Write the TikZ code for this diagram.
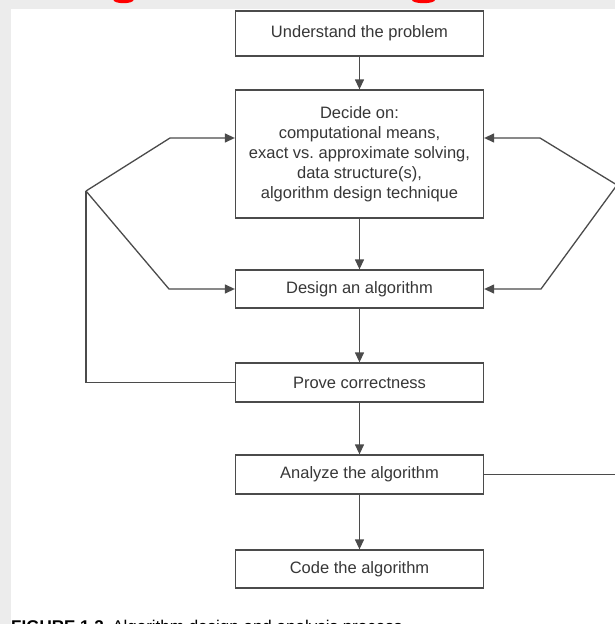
\documentclass[tikz,border=0pt]{standalone}
\usepackage{fontspec}
\setmainfont{Liberation Sans}
\usetikzlibrary{arrows.meta,positioning,calc}
\definecolor{pgray}{RGB}{236,236,236}
\definecolor{lgray}{RGB}{75,75,75}
\definecolor{tgray}{RGB}{55,55,55}
\definecolor{hred}{RGB}{255,0,0}

\begin{document}
\begin{tikzpicture}[x=1pt, y=-1pt,
    box/.style={draw=lgray, line width=1.3pt, fill=white, minimum width=248pt,
                inner sep=0pt, text=tgray, align=center,
                font=\fontsize{16.5}{20}\selectfont},
    arr/.style={-{Triangle[length=10pt, width=9pt]}, draw=lgray, line width=1.3pt},
    link/.style={draw=lgray, line width=1.3pt}
]
\useasboundingbox (0,0) rectangle (615,624);
\fill[pgray] (0,0) rectangle (615,624);
\fill[white] (11,9) rectangle (640,640);

% red heading, cut off by the frame
\fill[hred] (123.5,0) ellipse (10 and 3.2);
\fill[hred] (423.5,0) ellipse (11.5 and 3.2);

% Process steps
\node[box, minimum height=45pt] (understand) at (359.5, 33.5) {Understand the problem};
\node[box, minimum height=128pt] (decide) at (359.5, 154) {Decide on:\\computational means,\\exact vs.\ approximate solving,\\data structure(s),\\algorithm design technique};
\node[box, minimum height=38pt] (design) at (359.5, 289) {Design an algorithm};
\node[box, minimum height=39pt] (prove) at (359.5, 382.5) {Prove correctness};
\node[box, minimum height=39pt] (analyze) at (359.5, 474.5) {Analyze the algorithm};
\node[box, minimum height=38pt] (code) at (359.5, 569) {Code the algorithm};

\draw[arr] (understand) -- (decide);
\draw[arr] (decide) -- (design);
\draw[arr] (design) -- (prove);
\draw[arr] (prove) -- (analyze);
\draw[arr] (analyze) -- (code);

% Feedback on the left
\coordinate (lsplit) at (86,191);
\coordinate (lup) at (170,138);
\coordinate (ldown) at (169,289);
\draw[link] (prove.west) -| (lsplit);
\draw[arr] (lsplit) -- (lup) -- (decide.west |- lup);
\draw[arr] (lsplit) -- (ldown) -- (design.west);

% Feedback on the right
\coordinate (rsplit) at (617,185);
\coordinate (rup) at (540,138);
\coordinate (rdown) at (541,289);
\draw[link] (analyze.east) -| (rsplit);
\draw[arr] (rsplit) -- (rup) -- (decide.east |- rup);
\draw[arr] (rsplit) -- (rdown) -- (design.east);

\node[anchor=base west, inner sep=0pt, font=\fontsize{17}{20}\selectfont] (caption) at (11,632)
    {\textbf{FIGURE 1.2}\enspace Algorithm design and analysis process};

\end{tikzpicture}
\end{document}
